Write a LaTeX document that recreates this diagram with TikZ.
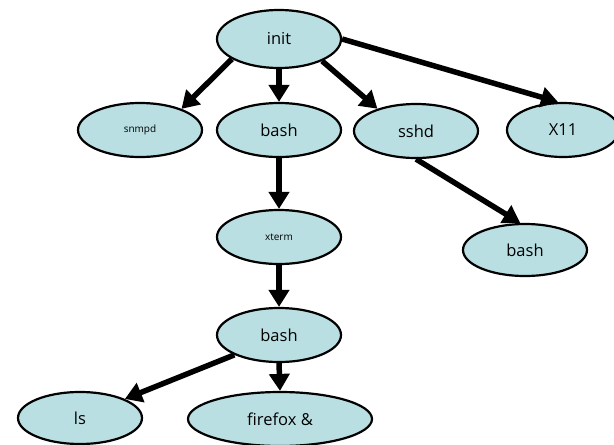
\documentclass[tikz,border=0pt]{standalone}
\usepackage{fontspec}
\setmainfont{Open Sans}
\usetikzlibrary{shapes.geometric,arrows.meta}
\definecolor{procfill}{HTML}{B9DFE3}
\tikzset{
  proc/.style={ellipse, draw=black, line width=2.2pt, fill=procfill,
    inner sep=0pt, minimum width=124pt, minimum height=54pt,
    font=\fontsize{16.5}{18}\selectfont},
  small/.style={font=\fontsize{10}{11}\selectfont},
  fork/.style={line width=5.5pt, -{Triangle[length=17pt,width=20pt]}},
}
\begin{document}
\begin{tikzpicture}[x=1pt,y=-1pt]
\useasboundingbox (0,0) rectangle (614,445);
% process tree
\node[proc, minimum height=58pt] (init) at (279,39) {init};
\node[proc, small] (snmpd) at (140,130) {snmpd};
\node[proc] (bashA) at (279,130) {bash};
\node[proc] (sshd) at (416,131) {sshd};
\node[proc, minimum width=112pt] (x11) at (563,130) {X11};
\node[proc, minimum height=52pt] (bashB) at (525,250) {bash};
\node[proc, small] (xterm) at (279,237) {xterm};
\node[proc] (bashC) at (279,335) {bash};
\node[proc, minimum height=52pt] (ls) at (80,418) {ls};
\node[proc, minimum width=184pt, minimum height=54pt] (ff) at (280,419) {firefox \&};
% parent -> child edges
\draw[fork] (init.203) -- (snmpd.27);
\draw[fork] (init.south) -- (bashA.north);
\draw[fork] (init.333) -- (sshd.150);
\draw[fork] (init.east) -- (x11.100);
\draw[fork] (sshd.south) -- (bashB.100);
\draw[fork] (bashA.south) -- (xterm.north);
\draw[fork] (xterm.south) -- (bashC.north);
\draw[fork] (bashC.204) -- (ls.23);
\draw[fork] (bashC.south) -- (ff.north);
\end{tikzpicture}
\end{document}
